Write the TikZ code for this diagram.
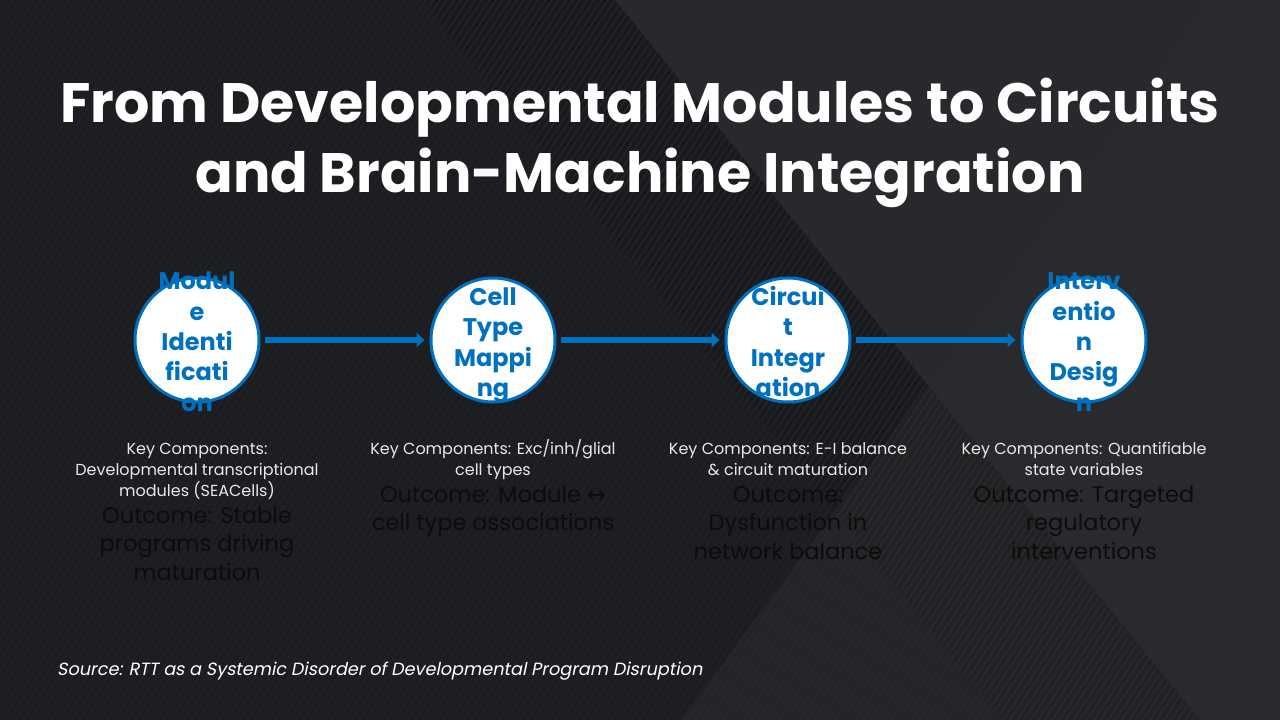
\documentclass[tikz,border=0pt]{standalone}
\usepackage{fontspec}
\setmainfont{Poppins}
\newfontfamily\symfont{DejaVu Sans}
\newfontfamily\srcfont{Poppins}[FakeSlant=0.2]
\usetikzlibrary{arrows.meta}
\definecolor{bgbase}{HTML}{1C1D21}
\definecolor{nodeblue}{HTML}{0070C0}
\definecolor{keytext}{HTML}{E8E8E8}
\definecolor{outtext}{HTML}{0C0C0C}
\begin{document}
\begin{tikzpicture}[x=1pt,y=-1pt,
  stage/.style={circle, draw=nodeblue, line width=3pt, fill=white, minimum size=124pt, inner sep=0pt},
  stagelabel/.style={align=center, text=nodeblue, font=\fontsize{24}{30.3}\selectfont\bfseries, inner sep=0pt, anchor=base},
  keylabel/.style={align=center, text=keytext, font=\fontsize{16}{21}\selectfont, inner sep=0pt, anchor=base},
  outlabel/.style={align=center, text=outtext, font=\fontsize{22.5}{28.5}\selectfont, inner sep=0pt, anchor=base},
  flow/.style={draw=nodeblue, line width=6pt, -{Triangle[width=14pt,length=8pt]}, shorten <=4pt, shorten >=5pt}
]
\useasboundingbox (0,0) rectangle (1280,720);
% background
\fill[bgbase] (0,0) rectangle (1280,720);
\fill[white, opacity=0.055] (615,0) -- (1280,0) -- (1280,720) -- (1200,720) -- cycle;
\fill[white, opacity=0.035] (681,720) -- (1213,0) -- (1280,0) -- (1280,720) -- cycle;
\fill[black, opacity=0.12] (1213,0) -- (928,385) -- (1200,720) -- (1280,720) -- (1280,0) -- cycle;
\begin{scope}
  \clip (0,0) -- (615,0) -- (1200,720) -- (0,720) -- cycle;
  \foreach \i in {-600,-593,...,1300} \draw[white, opacity=0.025, line width=1.2pt] (\i,720) -- ++(480,-720);
\end{scope}
\begin{scope}
  \clip (420,0) -- (615,0) -- (1200,720) -- (1005,720) -- cycle;
  \fill[black, opacity=0.08] (420,0) -- (615,0) -- (1200,720) -- (1005,720) -- cycle;
  \foreach \i in {-600,-593,...,1300} \draw[white, opacity=0.04, line width=1.2pt] (\i,720) -- ++(480,-720);
\end{scope}
% title
\node[align=center, text=white, font=\fontsize{55.5}{70}\selectfont\bfseries, inner sep=0pt, anchor=base] (title) at (640,192.7)
  {From Developmental Modules to Circuits\\and Brain-Machine Integration};
% stages
\node[stage] (c1) at (197,340) {};
\node[stage] (c2) at (493,340) {};
\node[stage] (c3) at (788,340) {};
\node[stage] (c4) at (1084,340) {};
\draw[flow] (c1) -- (c2);
\draw[flow] (c2) -- (c3);
\draw[flow] (c3) -- (c4);
\node[stagelabel] (l1) at (197,411) {Modul\\e\\Identi\\ficati\\on};
\node[stagelabel] (l2) at (493,396.5) {Cell\\Type\\Mappi\\ng};
\node[stagelabel] (l3) at (788,396.5) {Circui\\t\\Integr\\ation};
\node[stagelabel] (l4) at (1084,411) {Interv\\entio\\n\\Desig\\n};
% descriptions
\node[keylabel] (k1) at (197,496) {Key Components:\\Developmental transcriptional\\modules (SEACells)};
\node[outlabel] (o1) at (197,580) {Outcome: Stable\\programs driving\\maturation};
\node[keylabel] (k2) at (493,475) {Key Components: Exc/inh/glial\\cell types};
\node[outlabel] (o2) at (493,530.5) {Outcome: Module {\symfont ↔}\\cell type associations};
\node[keylabel] (k3) at (788,475) {Key Components: E-I balance\\\& circuit maturation};
\node[outlabel] (o3) at (788,559) {Outcome:\\Dysfunction in\\network balance};
\node[keylabel] (k4) at (1084,475) {Key Components: Quantifiable\\state variables};
\node[outlabel] (o4) at (1084,559) {Outcome: Targeted\\regulatory\\interventions};
% source
\node[anchor=base west, text=white, font=\srcfont\fontsize{17.7}{22}\selectfont, inner sep=0pt] (src) at (57,675.7)
  {Source: RTT as a Systemic Disorder of Developmental Program Disruption};
\end{tikzpicture}
\end{document}
